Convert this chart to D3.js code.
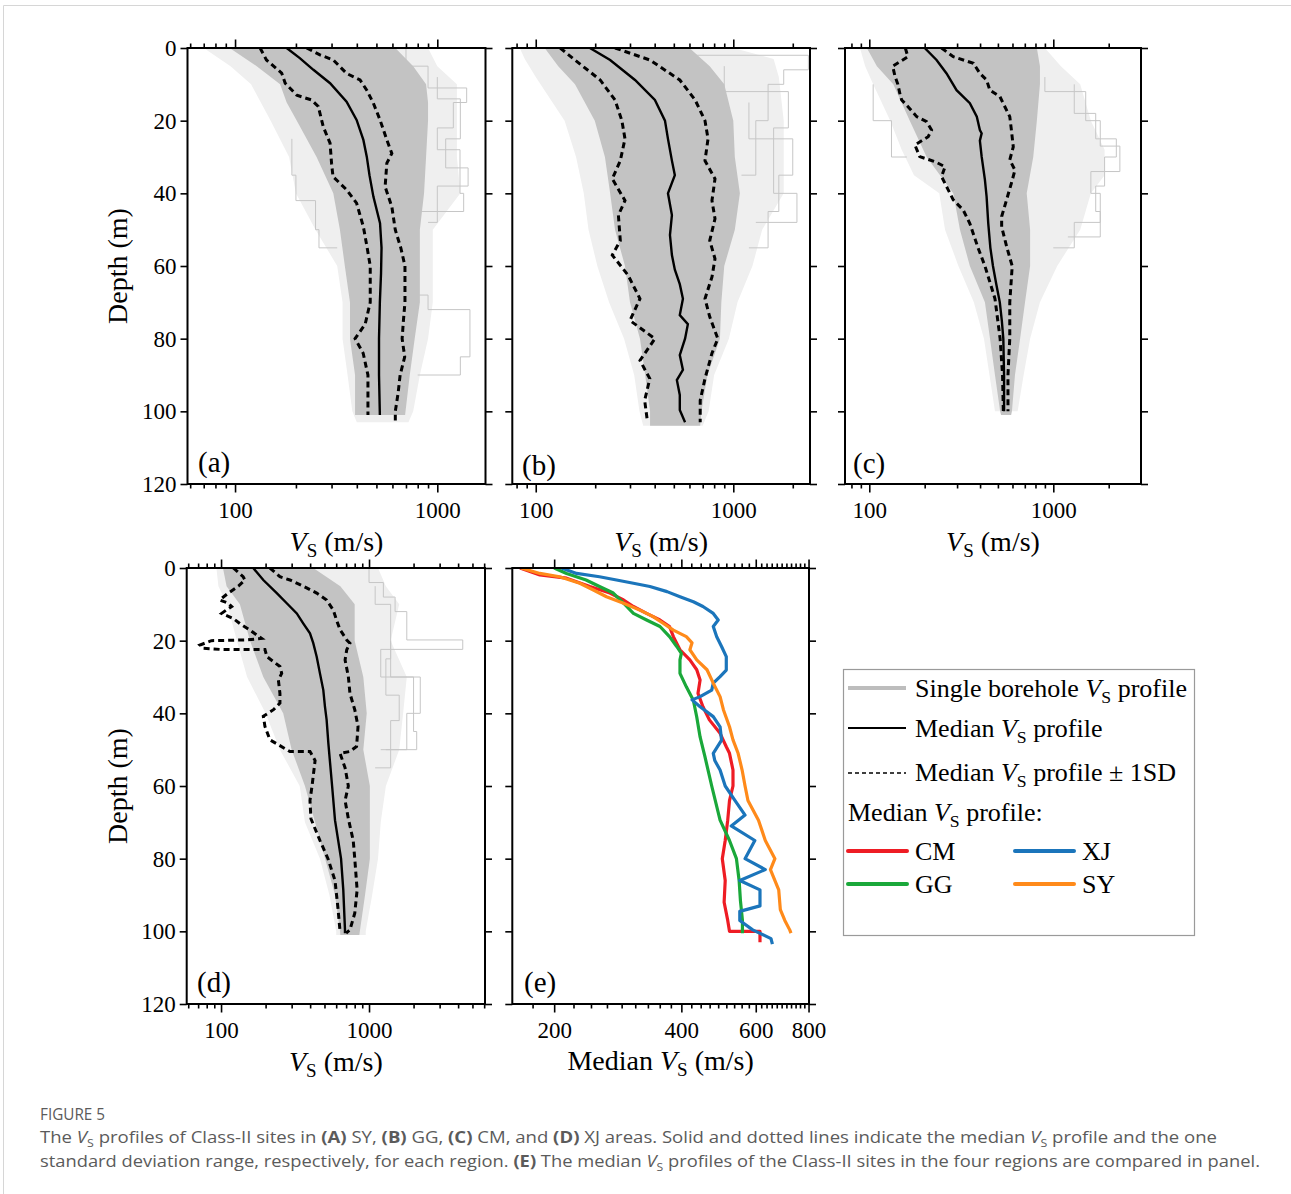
<!DOCTYPE html>
<html><head><meta charset="utf-8">
<script src="https://cdn.jsdelivr.net/npm/d3@7"></script>
<style>
body{margin:0;background:#fff}
svg{display:block}
.serif{font-family:"Liberation Serif","Times New Roman",serif}
</style>
</head><body>
<svg id="c" width="1291" height="1194"></svg>
<script>
// ---------------- DATA ----------------
const depthTicks = [0, 20, 40, 60, 80, 100, 120];
const vsMajorTicks = [100, 1000];
const medianMajorTicks = [200, 400, 600, 800];

// (a) SY  — [depth, Vs]
const syMedian = [[0,180],[2.8,209],[6,244],[9.7,295],[14.8,356],[19.8,399],[25.3,431],[29.9,448],[35,462],[40.9,483],[48.2,521],[55,530],[62,527],[70,520],[80,515],[90,515],[101,520]];
const syLower = [[0,133],[3.3,143],[6.9,170],[9.7,177],[13,202],[14.3,239],[16.1,258],[21.7,273],[26.2,295],[31.7,300],[35.4,305],[39,356],[42.7,399],[49.2,431],[55,450],[60,466],[70,466],[76,440],[80,392],[84,430],[90,454],[96,454],[101,454]];
const syUpper = [[0,226],[1.9,263],[3.3,306],[7,356],[8.8,415],[11.6,448],[15.2,483],[19.8,521],[25.3,563],[29,596],[31.7,563],[38.2,552],[43.7,596],[50.1,620],[55,660],[60,692],[70,692],[75,680],[80,670],[85,690],[90,655],[95,640],[100,620],[102.5,620]];
// cloud: [depth, left Vs, right Vs]
const syCore = [[0,94,620],[5,128,760],[10,167,880],[15,180,900],[20,202,900],[30,253,880],[40,306,860],[50,330,820],[60,349,820],[70,370,820],[80,370,773],[90,392,731],[101,392,693]];
const syFringe = [[0,70,900],[5,95,1000],[10,120,1250],[20,150,1250],[30,185,1250],[40,200,1300],[50,250,950],[60,320,950],[70,340,950],[80,340,900],[90,360,820],[100,380,760],[103,400,720]];
const syOutliers = [
  [[0,700],[5,900],[11,1397],[15,1200],[22,1000],[28,1295],[40,1350],[45,800],[60,700]],
  [[25,191],[35,200],[42,250],[50,260],[55,320]],
  [[60,700],[68,900],[72,1450],[85,1300],[90,800]],
  [[8,1000],[14,1300],[25,1100],[33,1420],[38,1000],[48,900]]
];

// (b) GG
const ggMedian = [[0,188],[3.3,238],[8.8,318],[14.3,401],[20,451],[25,467],[31,489],[35,506],[40,467],[46,489],[51.5,478],[57,489],[61,506],[65,536],[69,556],[73.5,536],[76,589],[80,570],[84.5,536],[88.6,556],[91.4,518],[95.5,536],[99.6,536],[103,570]];
const ggLower = [[0,133],[3.3,158],[8.8,212],[14.3,252],[20,273],[25,283],[31,268],[36,244],[42,283],[46,262],[53,268],[57,244],[62.5,293],[69,337],[75,300],[80,401],[86,337],[91,378],[97,356],[103,368]];
const ggUpper = [[0,252],[3.3,378],[8.8,536],[14.3,641],[20,719],[25,745],[31,719],[36,808],[42,780],[47,808],[53,760],[58,808],[63,780],[69,719],[74,760],[80,835],[84,780],[91,719],[97,680],[103,680]];
const ggCore = [[0,111,600],[5,130,760],[10,158,900],[20,199,1000],[30,224,1018],[40,238,1080],[50,252,1018],[60,283,900],[70,300,870],[80,337,856],[90,358,740],[100,379,690],[104,379,680]];
const ggFringe = [[0,83,1000],[3,88,1600],[8,100,1700],[20,140,1800],[30,160,1800],[40,175,1800],[50,185,1400],[60,205,1250],[70,235,1050],[80,280,950],[90,315,800],[100,335,750],[104,350,700]];
const ggOutliers = [
  [[0,600],[2,2400],[6,1800],[10,1500],[20,1300],[35,1100]],
  [[15,1200],[25,2000],[35,1700],[45,1500],[55,1200]],
  [[5,900],[12,1900],[22,1600],[40,2100],[48,1300]]
];

// (c) CM
const cmMedian = [[0,200],[3.3,232],[7,263],[11.6,298],[15.2,352],[18.9,384],[22.6,399],[23.5,408],[25.5,399],[29.9,408],[36.3,425],[40.9,434],[48.2,443],[55,455],[60,470],[65,490],[70,512],[75,525],[80,535],[90,540],[100,540]];
const cmLower = [[0,157],[2.4,162],[3.3,152],[5,134],[7.8,138],[10,143],[12.8,147],[14.3,150],[16.1,162],[18.9,181],[20.3,205],[22.6,218],[24.4,209],[26.7,177],[29.9,188],[31.3,228],[32.7,258],[35.4,247],[39.1,269],[41.8,286],[44.6,324],[48.3,352],[55,390],[60,425],[69,482],[80,514],[90,530],[100,535]];
const cmUpper = [[0,247],[2.4,286],[4.2,368],[7,399],[8.8,434],[11.6,452],[13.4,513],[17.1,557],[18.9,580],[22.6,592],[27.2,606],[30.8,580],[33.6,619],[37.2,592],[41.8,557],[46.4,524],[49.2,524],[55,560],[60,598],[70,580],[80,580],[90,567],[100,567]];
const cmCore = [[0,97,814],[5,110,846],[10,135,846],[20,166,814],[30,205,778],[40,286,717],[50,311,748],[60,352,748],[70,425,702],[80,453,660],[90,482,619],[100,514,596],[101,520,590]];
const cmFringe = [[0,89,900],[5,95,1100],[10,105,1400],[20,130,1600],[28,150,1900],[35,175,1900],[40,240,1600],[50,258,1400],[60,305,1050],[70,370,846],[80,420,748],[90,450,690],[100,482,640]];
const cmOutliers = [
  [[8,900],[12,1500],[20,1800],[27,2300],[34,1600],[40,1800],[48,1300],[55,1000]],
  [[10,105],[20,132],[30,160]],
  [[10,1300],[18,1700],[25,2200],[30,1900],[38,1700],[45,1800],[52,1200]]
];

// (d) XJ
const xjMedian = [[0,165],[3.3,193],[6.9,238],[9.7,278],[12.5,325],[15.3,360],[18,399],[20.7,420],[24.4,443],[29,466],[33.6,491],[38.2,504],[41.8,517],[48.2,531],[60,563],[69.4,589],[80,647],[88.6,670],[99.6,688],[100.5,688]];
const xjLower = [[0,121],[2.4,141],[3.3,145],[5,131],[6.9,112],[8.8,98],[9.7,112],[10.6,118],[11.5,109],[12.5,101],[13.9,121],[15.3,134],[17.1,157],[19.4,188],[19.8,149],[20,86],[21.2,72],[22.1,76],[22.4,98],[22.4,198],[24.4,204],[27.1,250],[29,257],[30.8,244],[34.5,250],[37.2,250],[39,226],[40.8,193],[43.6,198],[47.3,214],[50.5,292],[50.5,399],[53,432],[60,412],[64,399],[69,405],[75,466],[80,528],[86,589],[94,618],[100,637]];
const xjUpper = [[0,214],[2.4,250],[3.3,292],[5,360],[6.9,443],[8.8,517],[11.6,574],[14.3,603],[17,637],[19.8,707],[20.7,743],[22.5,707],[25.3,689],[29.9,725],[34.5,743],[39,801],[43.6,843],[49.1,824],[50.5,743],[51,637],[55,689],[60,725],[64,689],[69,725],[75,782],[80,801],[88.6,831],[95,801],[99.6,743],[100.5,700]];
const xjCore = [[0,103,420],[5,109,640],[10,134,800],[20,157,800],[30,193,915],[40,263,965],[50,300,915],[60,369,1013],[70,432,1013],[80,505,1013],[90,589,940],[100,637,867],[101,640,860]];
const xjFringe = [[0,93,1150],[5,96,1300],[10,110,1600],[20,128,1400],[30,150,1800],[40,200,1700],[50,250,1600],[60,340,1300],[70,369,1200],[80,466,1150],[90,540,1050],[100,600,950],[101,600,950]];
const xjOutliers = [
  [[0,1000],[4,1250],[8,1500],[12,1800],[19.8,4300],[22.4,1200],[30,2000],[45,2100],[50,1200]],
  [[20,1400],[30,2220],[40,1800],[50,1300]],
  [[5,1100],[10,1400],[25,1300],[35,1600],[42,1400],[55,1100]]
];

// (e) median profiles of the four regions
const eCM = [[0,166],[1.9,185],[2.8,214],[5.1,243],[6.9,271],[8.8,292],[10.6,308],[12.5,331],[14.3,356],[16.1,375],[18.9,383],[22.5,397],[25.3,419],[28,435],[30.8,443],[34.5,438],[38.2,450],[41.8,466],[45.5,494],[49.2,511],[51,520],[55.6,530],[60,530],[64,520],[69.4,515],[75,508],[80,500],[86,508],[92,505],[97,515],[100,520],[100,614],[103,614]];
const eGG = [[0,200],[1.5,214],[3.3,238],[5.1,256],[6.9,276],[9.7,292],[12.5,308],[14.3,331],[16.1,356],[18.9,375],[21.6,390],[23.5,400],[25.3,397],[29,397],[32.7,411],[36.4,427],[41,435],[46.5,443],[52,455],[60,472],[69.4,494],[75,520],[80,540],[86,548],[91.6,552],[97,558],[100.5,558]];
const eXJ = [[0,208],[1.5,226],[2.4,256],[3.3,281],[4.2,308],[5.1,337],[6.5,370],[7.9,397],[9.3,427],[10.6,450],[12.5,476],[14.3,489],[16.1,476],[18.9,485],[21.6,498],[24.4,511],[28.1,511],[29.9,494],[31.7,476],[33.6,472],[35.4,443],[36.3,424],[38.2,443],[40.9,476],[43.7,494],[47.4,498],[51,476],[53,480],[55.6,494],[60,508],[64,536],[68,566],[71,525],[75,597],[80,566],[83,632],[86,550],[88.6,614],[93,614],[94.5,550],[97,550],[99.6,590],[102,652],[103.5,657]];
const eSY = [[0,167],[1.5,185],[2.4,206],[4.2,230],[6,247],[7.9,266],[9.7,292],[11.6,319],[13.4,343],[15.2,362],[17.1,383],[18.9,411],[20.6,424],[22.5,419],[25.3,435],[28,460],[31.7,476],[35.4,494],[39,503],[43.7,520],[47.3,530],[51,545],[55.6,557],[60,566],[64,575],[69.4,609],[75,632],[80,666],[83,650],[88.6,680],[94,686],[97,703],[99.6,722],[100.5,727]];

// ---------------- LAYOUT ----------------
const svg = d3.select("#c");
const COL = {core:"#c3c3c3", fringe:"#efefef", out:"#c6c6c6", CM:"#ee1c24", GG:"#1aa83a", XJ:"#1b75bb", SY:"#ff8a1a"};

const panels = [
  {key:"a", box:[187.5,48,485.5,484], xdom:[58.2,1731], yLabels:true, core:syCore, fringe:syFringe, out:syOutliers, med:syMedian, lo:syLower, up:syUpper, lab:[198,472]},
  {key:"b", box:[512.3,48,810,484], xdom:[76.1,2445], yLabels:false, core:ggCore, fringe:ggFringe, out:ggOutliers, med:ggMedian, lo:ggLower, up:ggUpper, lab:[522,475]},
  {key:"c", box:[845,48,1141,484], xdom:[73.8,2996], yLabels:false, core:cmCore, fringe:cmFringe, out:cmOutliers, med:cmMedian, lo:cmLower, up:cmUpper, lab:[853,473]},
  {key:"d", box:[186.7,568,485,1004], xdom:[58.6,6078], yLabels:true, core:xjCore, fringe:xjFringe, out:xjOutliers, med:xjMedian, lo:xjLower, up:xjUpper, lab:[197,992]},
];
const panelE = {key:"e", box:[512.3,568,809,1004], xdom:[159.2,802], lab:[524,992]};

function minorLog(dom){
  const out=[];
  for(let e=1;e<=4;e++) for(let m=2;m<=9;m++){const v=m*Math.pow(10,e); if(v>=dom[0]&&v<=dom[1]) out.push(v);}
  return out;
}
function minorE(){
  const out=[177.8];
  for(let k=1;k<=8;k++){out.push(200+200*k/9); out.push(400+200*k/9);}
  for(let k=1;k<=10;k++) out.push(600+200*k/11);
  return out;
}

function vsLabel(g, x, y, pre, size){
  const t = g.append("text").attr("class","serif").attr("x",x).attr("y",y)
    .attr("font-size",size).attr("text-anchor","middle").attr("fill","#000");
  if(pre) t.append("tspan").text(pre);
  t.append("tspan").attr("font-style","italic").text("V");
  t.append("tspan").attr("font-size",size*0.68).attr("dy",size*0.22).text("S");
  t.append("tspan").attr("dy",-size*0.22).text(" (m/s)");
  return t;
}

function drawAxes(g, x, y, box, majors, minors, yLabels, fmt){
  const [x0,y0,x1,y1]=box;
  const tick = sel => sel.call(s=>s.select(".domain").remove())
     .call(s=>s.selectAll("line").attr("stroke","#000").attr("stroke-width",1.6));
  g.append("g").attr("transform",`translate(0,${y1})`)
    .call(d3.axisBottom(x).tickValues(minors).tickSize(4.5).tickFormat("")).call(tick);
  g.append("g").attr("transform",`translate(0,${y1})`)
    .call(d3.axisBottom(x).tickValues(majors).tickSize(8.5).tickPadding(9).tickFormat(fmt)).call(tick)
    .call(s=>s.selectAll("text").attr("class","serif").attr("font-size",23).attr("fill","#000"));
  g.append("g").attr("transform",`translate(0,${y0})`)
    .call(d3.axisTop(x).tickValues(minors).tickSize(4.5).tickFormat("")).call(tick);
  g.append("g").attr("transform",`translate(0,${y0})`)
    .call(d3.axisTop(x).tickValues(majors).tickSize(8.5).tickFormat("")).call(tick);
  const la = g.append("g").attr("transform",`translate(${x0},0)`)
    .call(d3.axisLeft(y).tickValues(depthTicks).tickSize(7).tickPadding(4).tickFormat(yLabels?d3.format("d"):"")).call(tick);
  la.selectAll("text").attr("class","serif").attr("font-size",23).attr("fill","#000");
  g.append("g").attr("transform",`translate(${x1},0)`)
    .call(d3.axisRight(y).tickValues(depthTicks).tickSize(7).tickFormat("")).call(tick);
  g.append("rect").attr("x",x0).attr("y",y0).attr("width",x1-x0).attr("height",y1-y0)
    .attr("fill","none").attr("stroke","#000").attr("stroke-width",2);
}

const defs = svg.append("defs");
function clip(key, box){
  defs.append("clipPath").attr("id","clip"+key).append("rect")
    .attr("x",box[0]).attr("y",box[1]).attr("width",box[2]-box[0]).attr("height",box[3]-box[1]);
  return `url(#clip${key})`;
}

panels.forEach(p=>{
  const [x0,y0,x1,y1]=p.box;
  const x = d3.scaleLog().domain(p.xdom).range([x0,x1]);
  const y = d3.scaleLinear().domain([0,120]).range([y0,y1]);
  const g = svg.append("g");
  const gc = g.append("g").attr("clip-path",clip(p.key,p.box));
  const area = d3.area().y(d=>y(d[0])).x0(d=>x(d[1])).x1(d=>x(d[2])).curve(d3.curveLinear);
  gc.append("path").attr("d",area(p.fringe)).attr("fill",COL.fringe);
  const step = d3.line().x(d=>x(d[1])).y(d=>y(d[0])).curve(d3.curveStepBefore);
  p.out.forEach(o=>gc.append("path").attr("d",step(o)).attr("fill","none").attr("stroke",COL.out).attr("stroke-width",1));
  gc.append("path").attr("d",area(p.core)).attr("fill",COL.core);
  const line = d3.line().x(d=>x(d[1])).y(d=>y(d[0]));
  [p.lo,p.up].forEach(s=>gc.append("path").attr("d",line(s)).attr("fill","none")
     .attr("stroke","#000").attr("stroke-width",3).attr("stroke-dasharray","6,4"));
  gc.append("path").attr("d",line(p.med)).attr("fill","none").attr("stroke","#000").attr("stroke-width",2.4);
  drawAxes(g,x,y,p.box,vsMajorTicks,minorLog(p.xdom),p.yLabels,d3.format("d"));
  g.append("text").attr("class","serif").attr("x",p.lab[0]).attr("y",p.lab[1]).attr("font-size",29).text("("+p.key+")");
  vsLabel(g,(x0+x1)/2, y1+67, "", 28);
});

(function(){
  const p=panelE; const [x0,y0,x1,y1]=p.box;
  const x = d3.scaleLog().domain(p.xdom).range([x0,x1]);
  const y = d3.scaleLinear().domain([0,120]).range([y0,y1]);
  const g = svg.append("g");
  const gc = g.append("g").attr("clip-path",clip("e",p.box));
  const line = d3.line().x(d=>x(d[1])).y(d=>y(d[0]));
  [["CM",eCM],["GG",eGG],["XJ",eXJ],["SY",eSY]].forEach(([k,s])=>
    gc.append("path").attr("d",line(s)).attr("fill","none").attr("stroke",COL[k]).attr("stroke-width",3.2).attr("stroke-linejoin","round"));
  drawAxes(g,x,y,p.box,medianMajorTicks,minorE(),false,d3.format("d"));
  g.append("text").attr("class","serif").attr("x",p.lab[0]).attr("y",p.lab[1]).attr("font-size",29).text("(e)");
  vsLabel(g,(x0+x1)/2, y1+66, "Median ", 28);
})();

[[127,266],[127,786]].forEach(([cx,cy])=>svg.append("text").attr("class","serif")
  .attr("transform",`translate(${cx},${cy}) rotate(-90)`).attr("text-anchor","middle")
  .attr("font-size",28).text("Depth (m)"));

(function(){
  const g = svg.append("g").attr("class","serif");
  g.append("rect").attr("x",843.5).attr("y",669.5).attr("width",351).attr("height",266)
    .attr("fill","#fff").attr("stroke","#9a9a9a").attr("stroke-width",1.2);
  const fs=26;
  function vsText(xx,yy,pre,post){
    const t=g.append("text").attr("x",xx).attr("y",yy).attr("font-size",fs).attr("fill","#000");
    if(pre) t.append("tspan").text(pre);
    t.append("tspan").attr("font-style","italic").text("V");
    t.append("tspan").attr("font-size",fs*0.68).attr("dy",fs*0.22).text("S");
    t.append("tspan").attr("dy",-fs*0.22).text(post);
  }
  g.append("line").attr("x1",848).attr("x2",906).attr("y1",688).attr("y2",688).attr("stroke","#bdbdbd").attr("stroke-width",4);
  vsText(915,697,"Single borehole ", " profile");
  g.append("line").attr("x1",848).attr("x2",906).attr("y1",728).attr("y2",728).attr("stroke","#000").attr("stroke-width",2);
  vsText(915,737,"Median ", " profile");
  g.append("line").attr("x1",848).attr("x2",906).attr("y1",773).attr("y2",773).attr("stroke","#000").attr("stroke-width",1.6).attr("stroke-dasharray","4,3");
  vsText(915,781,"Median ", " profile ± 1SD");
  vsText(848,821,"Median ", " profile:");
  const items=[["CM",848,851],["XJ",1015,851],["GG",848,884],["SY",1015,884]];
  items.forEach(([k,lx,ly])=>{
    g.append("line").attr("x1",lx).attr("x2",lx+59).attr("y1",ly).attr("y2",ly).attr("stroke",COL[k]).attr("stroke-width",4).attr("stroke-linecap","round");
    g.append("text").attr("x",lx+67).attr("y",ly+9).attr("font-size",fs).text(k);
  });
})();

svg.append("path").attr("d","M3.5,1194 V5.5 H1291").attr("fill","none").attr("stroke","#d6d6d6").attr("stroke-width",1);
const cap = svg.append("g").attr("font-family","'Open Sans','Noto Sans',sans-serif").attr("fill","#5b5b5b");
cap.append("text").attr("x",40).attr("y",1120).attr("font-size",17).attr("textLength",65).attr("lengthAdjust","spacingAndGlyphs").text("FIGURE 5");
function capLine(yy, parts, len){
  const t=cap.append("text").attr("x",40).attr("y",yy).attr("font-size",16.5).attr("textLength",len).attr("lengthAdjust","spacingAndGlyphs");
  parts.forEach(p=>{
    const s=t.append("tspan").text(p.t);
    if(p.b) s.attr("font-weight","bold");
    if(p.i) s.attr("font-style","italic");
    if(p.sub) s.attr("font-size",11).attr("dy",4);
    if(p.up) s.attr("dy",-4);
  });
}
capLine(1143,[{t:"The "},{t:"V",i:1},{t:"S",sub:1},{t:" profiles of Class-II sites in ",up:1},{t:"(A)",b:1},{t:" SY, "},{t:"(B)",b:1},{t:" GG, "},{t:"(C)",b:1},{t:" CM, and "},{t:"(D)",b:1},{t:" XJ areas. Solid and dotted lines indicate the median "},{t:"V",i:1},{t:"S",sub:1},{t:" profile and the one",up:1}],1177);
capLine(1167,[{t:"standard deviation range, respectively, for each region. "},{t:"(E)",b:1},{t:" The median "},{t:"V",i:1},{t:"S",sub:1},{t:" profiles of the Class-II sites in the four regions are compared in panel.",up:1}],1220);
</script>
</body></html>
